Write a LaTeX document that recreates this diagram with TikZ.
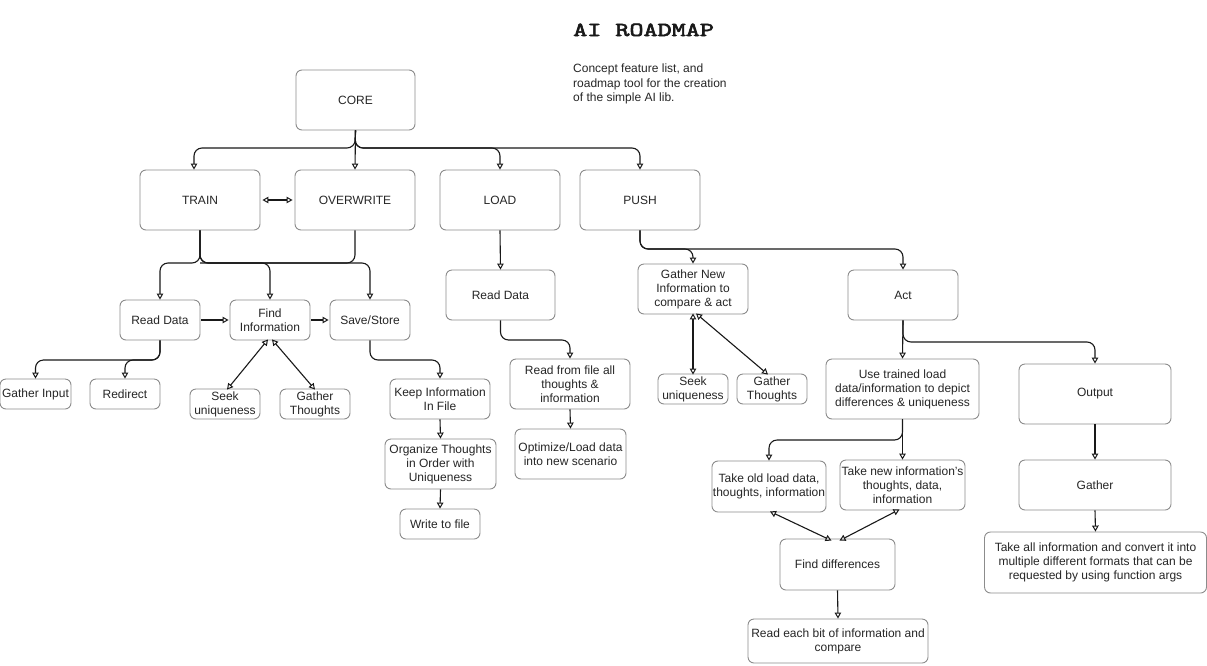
\documentclass[tikz,border=0pt]{standalone}
\usepackage{fontspec}
\setmainfont{Liberation Sans}
\newfontfamily\titlefont[FakeBold=2.5]{lmmono10-regular.otf}
\usetikzlibrary{arrows.meta}
\tikzset{
  box/.style={draw=black!45, line width=0.9pt, rounded corners=6pt, fill=white,
    align=center, inner sep=1pt, font=\fontsize{12}{14}\selectfont, text=black!85},
  bx/.style 2 args={box, minimum width=#1pt, minimum height=#2pt},
  tipo/.tip={Triangle[open,length=6pt,width=6.5pt,line width=1pt]},
  arr/.style={draw=black!90, line width=1.1pt, -tipo, rounded corners=8pt},
  darr/.style={draw=black!90, line width=1.1pt, tipo-tipo},
  plain/.style={draw=black!90, line width=1.1pt, rounded corners=8pt}
}
\begin{document}
\begin{tikzpicture}[x=1pt,y=-1pt]
\fill[white] (0,0) rectangle (1207,665);
\useasboundingbox (0,0) rectangle (1207,665);

% title
\node[anchor=base west, inner sep=0, font=\titlefont\fontsize{20}{24}\selectfont, text=black!90] (title) at (573,36) {\scalebox{1.34}[1]{AI ROADMAP}};
\node[anchor=north west, align=left, inner sep=0, font=\fontsize{12}{14.5}\selectfont, text=black!85] (sub) at (573,64) {Concept feature list, and\\roadmap tool for the creation\\of the simple AI lib.};

% top level
\node[bx={119}{60}] (core) at (355.5,100) {CORE};
\node[bx={120}{60}] (train) at (200,200) {TRAIN};
\node[bx={120}{60}] (ow) at (355,200) {OVERWRITE};
\node[bx={120}{60}] (load) at (500,200) {LOAD};
\node[bx={120}{60}] (push) at (640,200) {PUSH};

% train / overwrite branch
\node[bx={80}{40}] (rd1) at (160,320) {Read Data};
\node[bx={80}{40}] (fi) at (270,320) {Find\\Information};
\node[bx={80}{40}] (ss) at (370,320) {Save/Store};
\node[bx={71}{30}] (gi) at (35.5,394) {Gather Input};
\node[bx={70}{30}] (redir) at (125,394) {Redirect};
\node[bx={70}{30}] (su1) at (225,404) {Seek\\uniqueness};
\node[bx={70}{30}] (gt1) at (315,404) {Gather\\Thoughts};
\node[bx={100}{40}] (keep) at (440,399) {Keep Information\\In File};
\node[bx={111}{50}] (org) at (440.5,464) {Organize Thoughts\\in Order with\\Uniqueness};
\node[bx={80}{30}] (write) at (440,524) {Write to file};

% load branch
\node[bx={109}{50}] (rd2) at (500.5,295) {Read Data};
\node[bx={120}{50}] (rff) at (570,384) {Read from file all\\thoughts \&\\information};
\node[bx={111}{50}] (opt) at (570.5,454) {Optimize/Load data\\into new scenario};

% push branch
\node[bx={110}{50}] (gn) at (693,289) {Gather New\\Information to\\compare \& act};
\node[bx={70}{30}] (su2) at (693,389) {Seek\\uniqueness};
\node[bx={70}{30}] (gt2) at (772,389) {Gather\\Thoughts};
\node[bx={110}{50}] (act) at (903,295) {Act};
\node[bx={153}{60}] (use) at (902.5,389) {Use trained load\\data/information to depict\\differences \& uniqueness};
\node[bx={152}{60}] (out) at (1095,394) {Output};
\node[bx={114}{51}] (old) at (769,486.5) {Take old load data,\\thoughts, information};
\node[bx={125}{50}] (new) at (902.5,485) {Take new information's\\thoughts, data,\\information};
\node[bx={115}{51}] (fd) at (837.5,564.5) {Find differences};
\node[bx={180}{44}] (rb) at (838,641) {Read each bit of information and\\compare};
\node[bx={152}{50}] (gath) at (1095,485) {Gather};
\node[bx={222}{61}] (tall) at (1095.5,562.5) {Take all information and convert it into\\multiple different formats that can be\\requested by using function args};

% connectors: core
\coordinate (f1) at (355,148);
\draw[arr] (core.south) -- (f1) -| ([xshift=-6pt]train.north);
\draw[arr] (core.south) -- (ow.north);
\draw[arr] (core.south) -- (f1) -| (load.north);
\draw[arr] (core.south) -- (f1) -| (push.north);

% train / overwrite
\draw[darr] ([xshift=2pt]train.east) -- ([xshift=-2pt]ow.west);
\coordinate (f2) at (200,263);
\draw[arr] (train.south) -- (f2) -| (rd1.north);
\draw[arr] (train.south) -- (f2) -| (fi.north);
\draw[arr] (train.south) -- (f2) -| (ss.north);
\draw[plain] (ow.south) |- (f2);
\draw[arr] ([xshift=1pt]rd1.east) -- ([xshift=-1pt]fi.west);
\draw[arr] ([xshift=1pt]fi.east) -- ([xshift=-1pt]ss.west);
\coordinate (f3) at (160,360);
\draw[arr] (rd1.south) -- (f3) -| (gi.north);
\draw[arr] (rd1.south) -- (f3) -| (redir.north);
\draw[darr] ([xshift=-2pt,yshift=1pt]fi.south) -- ([xshift=2pt,yshift=-1pt]su1.north);
\draw[darr] ([xshift=2pt,yshift=1pt]fi.south) -- ([yshift=-1pt]gt1.north);
\draw[arr] (ss.south) |- (405,360) -| (keep.north);
\draw[arr] (keep.south) -- (org.north);
\draw[arr] (org.south) -- (write.north);

% load
\draw[arr] (load.south) -- (rd2.north);
\draw[arr] (rd2.south) |- (535,340) -| (rff.north);
\draw[arr] (rff.south) -- (opt.north);

% push
\coordinate (f4) at (640,249);
\draw[arr] (push.south) -- (f4) -| (gn.north);
\draw[arr] (push.south) -- (f4) -| (act.north);
\draw[darr] ([yshift=1pt]gn.south) -- ([yshift=-1pt]su2.north);
\draw[darr] ([xshift=3pt,yshift=1pt]gn.south) -- ([xshift=-4pt,yshift=-1pt]gt2.north);
\draw[arr] (act.south) -- (use.north);
\draw[arr] (act.south) |- (1000,342) -| (out.north);
\draw[arr] (use.south) -- (new.north);
\draw[arr] (use.south) |- (840,440) -| (old.north);
\draw[darr] ([xshift=1pt,yshift=1pt]old.south) -- ([xshift=-6pt,yshift=-2pt]fd.north);
\draw[darr] ([xshift=-3pt,yshift=1pt]new.south) -- ([xshift=2pt,yshift=-2pt]fd.north);
\draw[arr] (fd.south) -- (rb.north);
\draw[arr] (out.south) -- (gath.north);
\draw[arr] (gath.south) -- (tall.north);
\end{tikzpicture}
\end{document}
